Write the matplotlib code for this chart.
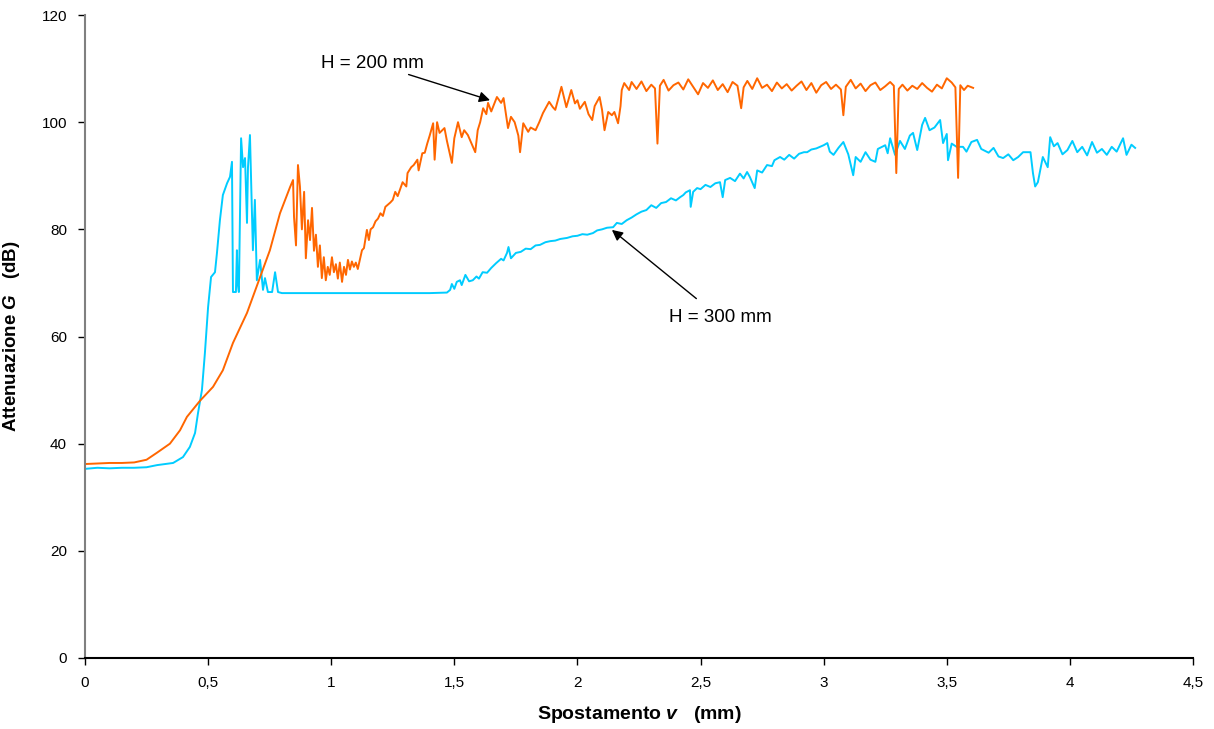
import numpy as np
import matplotlib.pyplot as plt

plt.rcParams['font.family'] = ['Liberation Sans', 'DejaVu Sans']
plt.rcParams['mathtext.fontset'] = 'custom'
plt.rcParams['mathtext.it'] = 'Liberation Sans:italic:bold'
plt.rcParams['mathtext.rm'] = 'Liberation Sans:bold'

# H = 200 mm (arancione)
x200 = [0, 0.05, 0.10, 0.15, 0.20, 0.25, 0.292, 0.345, 0.386, 0.414, 0.467, 0.52, 0.56,
        0.601, 0.658, 0.711, 0.751, 0.792, 0.833, 0.845,
        0.849, 0.857, 0.865, 0.873, 0.881, 0.89, 0.897, 0.906, 0.914, 0.922, 0.93, 0.938,
        0.946, 0.954, 0.962, 0.97, 0.978, 0.986, 0.994, 1.003, 1.011, 1.019, 1.027, 1.035,
        1.044, 1.052, 1.06, 1.068, 1.076, 1.084, 1.092, 1.10, 1.108, 1.117, 1.125, 1.133,
        1.145, 1.153, 1.16, 1.17, 1.18, 1.19, 1.20, 1.21, 1.22, 1.24, 1.25, 1.26, 1.27,
        1.29, 1.305, 1.31, 1.325, 1.335, 1.35, 1.355, 1.37, 1.38, 1.39, 1.40, 1.414, 1.42,
        1.43, 1.44, 1.46, 1.47, 1.49, 1.50, 1.515, 1.53, 1.54, 1.555, 1.57, 1.585, 1.595,
        1.605, 1.617, 1.63, 1.637, 1.65, 1.673, 1.69, 1.70, 1.718, 1.73, 1.745, 1.76,
        1.767, 1.78, 1.80, 1.81, 1.83, 1.845, 1.86, 1.885, 1.90, 1.91, 1.935, 1.955, 1.975,
        1.99, 2.0, 2.01, 2.03, 2.045, 2.06, 2.07, 2.09, 2.10, 2.11, 2.125, 2.14, 2.15,
        2.165, 2.175, 2.18, 2.19, 2.21, 2.22, 2.24, 2.26, 2.28, 2.30, 2.315, 2.325, 2.335,
        2.35, 2.37, 2.39, 2.41, 2.43, 2.45, 2.47, 2.49, 2.51, 2.53, 2.55, 2.57, 2.59,
        2.61, 2.63, 2.65, 2.665, 2.675, 2.69, 2.71, 2.73, 2.75, 2.77, 2.79, 2.81, 2.83,
        2.85, 2.87, 2.89, 2.91, 2.93, 2.95, 2.97, 2.99, 3.01, 3.03, 3.05, 3.07, 3.08,
        3.09, 3.11, 3.13, 3.15, 3.17, 3.19, 3.21, 3.23, 3.25, 3.27, 3.285, 3.295, 3.305,
        3.32, 3.34, 3.36, 3.38, 3.40, 3.42, 3.44, 3.46, 3.48, 3.50, 3.52, 3.535, 3.546,
        3.555, 3.57, 3.585, 3.607]
y200 = [36.2, 36.3, 36.4, 36.4, 36.5, 37.0, 38.3, 40.0, 42.5, 45.0, 48.0, 50.6, 53.7,
        58.8, 64.4, 71.1, 76.1, 83.0, 87.9, 89.2,
        82.3, 77.0, 92.0, 88.0, 80.0, 87.0, 74.6, 81.7, 78.0, 84.0, 76.0, 79.0,
        73.0, 77.0, 70.9, 74.8, 70.5, 73.0, 71.5, 74.8, 72.0, 73.5, 70.8, 73.8,
        70.2, 73.0, 71.5, 74.3, 72.5, 74.0, 73.0, 73.8, 72.6, 74.5, 76.1, 76.5,
        79.9, 78.0, 80.0, 80.4, 81.5, 82.0, 83.0, 82.5, 84.2, 85.0, 85.5, 87.0, 86.2,
        88.8, 88.0, 90.5, 91.6, 92.0, 93.0, 91.0, 94.2, 94.3, 96.0, 97.5, 99.8, 93.0,
        100.0, 98.0, 98.9, 96.5, 92.4, 97.0, 100.0, 97.2, 98.5, 97.6, 96.0, 94.4, 98.5,
        100.0, 102.6, 101.5, 103.6, 102.0, 104.7, 103.6, 104.5, 98.9, 101.0, 100.0, 97.5,
        94.4, 99.8, 98.2, 99.0, 98.5, 100.0, 101.7, 103.8, 102.8, 102.3, 106.6, 102.8, 106.0,
        103.5, 104.1, 102.5, 103.8, 101.5, 100.4, 103.0, 104.7, 102.3, 98.5, 101.9, 101.3, 101.9,
        99.8, 103.0, 106.0, 107.3, 106.0, 107.5, 106.2, 107.6, 105.8, 107.0, 106.3, 96.0, 106.8,
        107.9, 105.9, 106.9, 107.4, 106.1, 108.0, 106.6, 105.2, 107.3, 106.4, 107.8, 106.0, 107.1,
        105.6, 107.5, 106.8, 102.6, 106.5, 107.7, 106.2, 108.2, 106.4, 107.0, 105.8, 107.4, 106.3,
        107.1, 105.9, 106.8, 107.6, 106.0, 107.3, 105.5, 106.9, 107.5, 106.2, 107.0, 106.1, 101.3,
        106.6, 107.9, 106.3, 107.2, 105.8, 106.9, 107.4, 106.0, 106.7, 107.5, 106.8, 90.5, 106.2,
        107.0, 105.9, 106.8, 106.2, 107.3, 106.4, 105.7, 107.0, 106.3, 108.2, 107.4, 106.5, 89.6,
        106.9, 106.0, 106.8, 106.4]

# H = 300 mm (azzurro)
x300 = [0, 0.05, 0.10, 0.15, 0.20, 0.25, 0.293, 0.358, 0.398, 0.426, 0.447, 0.459, 0.475,
        0.487, 0.50, 0.512, 0.528, 0.536, 0.548, 0.56, 0.577, 0.589, 0.597, 0.601, 0.613,
        0.617, 0.62, 0.625, 0.634, 0.642, 0.65, 0.658, 0.662, 0.67, 0.682, 0.69, 0.698,
        0.711, 0.723, 0.731, 0.743, 0.76, 0.772, 0.784, 0.80, 1.0, 1.2, 1.4, 1.47,
        1.483, 1.49, 1.50, 1.51, 1.523, 1.53, 1.545, 1.56, 1.575, 1.59, 1.60, 1.615, 1.633,
        1.65, 1.67, 1.69, 1.70, 1.714, 1.72, 1.73, 1.75, 1.77, 1.79, 1.81, 1.83, 1.848,
        1.87, 1.89, 1.91, 1.93, 1.958, 1.98, 2.0, 2.02, 2.04, 2.063, 2.08, 2.10, 2.12,
        2.145, 2.16, 2.18, 2.20, 2.22, 2.24, 2.26, 2.28, 2.30, 2.32, 2.34, 2.36, 2.38,
        2.40, 2.417, 2.43, 2.44, 2.457, 2.46, 2.47, 2.486, 2.50, 2.52, 2.54, 2.56, 2.579,
        2.59, 2.60, 2.62, 2.64, 2.66, 2.675, 2.689, 2.70, 2.72, 2.73, 2.75, 2.77, 2.79,
        2.80, 2.823, 2.84, 2.86, 2.88, 2.90, 2.92, 2.933, 2.95, 2.97, 2.99, 3.0, 3.015,
        3.025, 3.04, 3.06, 3.08, 3.10, 3.12, 3.13, 3.15, 3.17, 3.19, 3.21, 3.22, 3.25,
        3.26, 3.27, 3.29, 3.31, 3.33, 3.35, 3.363, 3.38, 3.40, 3.412, 3.43, 3.45, 3.473,
        3.485, 3.50, 3.505, 3.52, 3.54, 3.566, 3.58, 3.60, 3.623, 3.64, 3.67, 3.69, 3.71,
        3.729, 3.75, 3.77, 3.79, 3.81, 3.84, 3.85, 3.859, 3.87, 3.89, 3.91, 3.92, 3.935,
        3.95, 3.97, 3.99, 4.01, 4.03, 4.05, 4.07, 4.09, 4.11, 4.13, 4.15, 4.17, 4.19,
        4.216, 4.23, 4.25, 4.265]
y300 = [35.3, 35.5, 35.4, 35.5, 35.5, 35.6, 36.0, 36.4, 37.5, 39.4, 42.0, 45.7, 50.0,
        56.9, 65.5, 71.1, 72.0, 75.6, 81.7, 86.4, 88.6, 89.8, 92.6, 68.3, 68.3,
        76.1, 70.0, 68.3, 97.0, 91.6, 93.3, 81.2, 91.6, 97.6, 76.1, 85.5, 70.5,
        74.3, 68.7, 70.9, 68.3, 68.3, 72.0, 68.3, 68.1, 68.1, 68.1, 68.1, 68.2,
        68.7, 69.8, 68.9, 70.2, 70.5, 69.6, 71.5, 70.3, 70.5, 71.2, 70.8, 72.0, 71.9,
        72.8, 73.7, 74.5, 74.2, 75.6, 76.7, 74.6, 75.6, 75.8, 76.4, 76.3, 77.0, 77.1,
        77.6, 77.8, 77.9, 78.2, 78.4, 78.7, 78.8, 79.1, 79.0, 79.3, 79.8, 80.0, 80.3,
        80.4, 81.2, 81.0, 81.7, 82.2, 82.8, 83.3, 83.6, 84.5, 84.0, 84.9, 85.1, 85.8,
        85.4, 86.0, 86.4, 86.9, 87.3, 84.2, 87.0, 87.7, 87.5, 88.3, 87.9, 88.6, 88.8,
        86.0, 89.2, 89.6, 89.0, 90.4, 89.5, 90.7, 89.8, 87.7, 91.0, 90.6, 92.0, 91.8,
        92.9, 93.5, 93.0, 93.9, 93.2, 94.1, 94.4, 94.4, 94.9, 95.1, 95.5, 95.7, 96.1,
        94.5, 93.9, 95.2, 96.3, 94.0, 90.1, 93.5, 92.6, 94.4, 93.0, 92.6, 95.0, 95.7,
        94.2, 97.0, 93.9, 96.5, 95.0, 97.5, 98.0, 94.8, 99.5, 100.8, 98.5, 99.0, 100.4,
        96.1, 97.8, 92.9, 96.0, 95.4, 95.4, 94.5, 96.3, 96.7, 95.0, 94.3, 95.2, 93.6,
        93.3, 94.0, 92.9, 93.5, 94.4, 94.4, 90.5, 88.0, 88.8, 93.5, 91.6, 97.2, 95.5,
        96.1, 94.0, 94.8, 96.5, 94.4, 95.4, 93.8, 96.3, 94.3, 95.0, 93.9, 95.4, 94.5,
        97.0, 93.9, 95.8, 95.2]

xticks = [0, 0.5, 1, 1.5, 2, 2.5, 3, 3.5, 4, 4.5]
xtick_labels = ['0', '0,5', '1', '1,5', '2', '2,5', '3', '3,5', '4', '4,5']
yticks = [0, 20, 40, 60, 80, 100, 120]

fig = plt.figure(figsize=(12.14, 7.29), dpi=100)
ax = fig.add_axes([0.070, 0.0974, 0.9127, 0.882])

ax.plot(x300, y300, color='#00CCFF', linewidth=1.4)
ax.plot(x200, y200, color='#FF6600', linewidth=1.4)

ax.set_xlim(0, 4.5)
ax.set_ylim(0, 120)
ax.set_xticks(xticks)
ax.set_xticklabels(xtick_labels)
ax.set_yticks(yticks)
ax.tick_params(direction='out', length=5, width=1, labelsize=11, pad=8)

for s in ['top', 'right']:
    ax.spines[s].set_visible(False)
ax.spines['left'].set_color('#808080')
ax.spines['left'].set_linewidth(1.5)
ax.spines['bottom'].set_color('black')
ax.spines['bottom'].set_linewidth(1.5)

ax.set_xlabel(r'Spostamento $v$   (mm)', fontsize=14, fontweight='bold', labelpad=10)
ax.set_ylabel(r'Attenuazione $G$   (dB)', fontsize=13.5, fontweight='bold', labelpad=14)

ax.annotate('H = 200 mm', xy=(1.645, 104.1), xytext=(1.378, 111.0),
            ha='right', va='center', fontsize=13.5,
            arrowprops=dict(arrowstyle='-|>', color='black', lw=1, mutation_scale=16,
                            shrinkA=0, shrinkB=0))
ax.annotate('H = 300 mm', xy=(2.14, 79.9), xytext=(2.37, 63.5),
            ha='left', va='center', fontsize=13.5,
            arrowprops=dict(arrowstyle='-|>', color='black', lw=1, mutation_scale=16,
                            shrinkA=9, shrinkB=0))

plt.savefig('out.png', dpi=100)
